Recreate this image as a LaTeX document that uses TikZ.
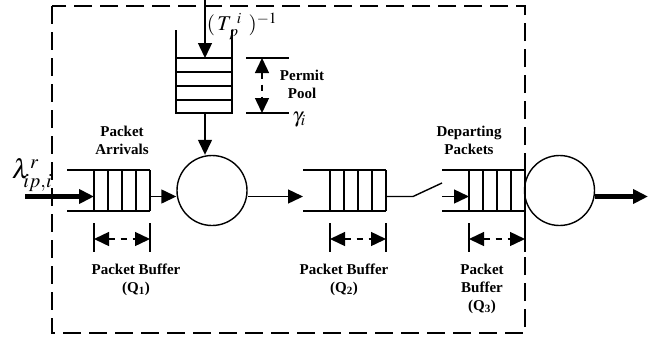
\documentclass[tikz,border=0pt]{standalone}
\usepackage{mathptmx}
\usepackage[no-math]{fontspec}
\setmainfont{Liberation Serif}
\usetikzlibrary{arrows.meta}

\begin{document}
\begin{tikzpicture}[x=1pt,y=-1pt,
		>={Triangle[length=15pt,width=14pt]},
		line width=1.4pt,
		flow/.style={->},
		heavy flow/.style={->,line width=5.5pt},
		dim/.style={<->,dash pattern=on 6pt off 6pt},
		server/.style={circle,draw,line width=1.4pt,minimum size=70pt,inner sep=0pt},
		lbl/.style={font=\fontsize{15}{18}\selectfont\bfseries,align=center,inner sep=0pt},
		buffer/.pic={
			\draw (-83,-20.5) -- (0,-20.5) (-83,20.5) -- (0,20.5);
			\foreach \x in {0,14,28,42,56}
				\draw (-\x,-20.5) -- (-\x,20.5);
			% dimension ticks
			\draw (-56,32.5) -- (-56,61.5) (0,32.5) -- (0,61.5);
			\coordinate (-open) at (-83,6);
			\coordinate (-in) at (-56,6);
			\coordinate (-out) at (0,6);
			\coordinate (-dl) at (-56,48.5);
			\coordinate (-dr) at (0,48.5);
		}]
		\useasboundingbox (0,0) rectangle (664,341);
		% boundary
		\draw[line width=1.8pt,dash pattern=on 18pt off 8pt] (52,6) rectangle (525,333);
		
		% buffers
		\pic (q1) at (150,190.5) {buffer};
		\pic (q2) at (386,190.5) {buffer};
		\pic (q3) at (525,190.5) {buffer};
		
		% servers
		\node[server] (srv1) at (212,190.5) {};
		\node[server] (srv2) at (559.5,190.5) {};
		
		% permit pool
		\draw (176,30) -- (176,113) -- (232,113) -- (232,30);
		\foreach \y in {58,72,86,100}
			\draw (176,\y) -- (232,\y);
		\coordinate (tok) at (205,0);
		\coordinate (pooltop) at (205,58);
		\coordinate (poolbot) at (205,113);
		\draw (246,58) -- (289,58) (246,113) -- (289,113);
		\coordinate (pdtop) at (262,58);
		\coordinate (pdbot) at (262,113);
		
		\coordinate (src) at (25,196.5);
		\coordinate (sink) at (648,196.5);
		\coordinate (swa) at (413,196.5);
		\coordinate (swb) at (442,183);
		
		% labels
		\node[inner sep=0pt] (rate) at (242,26) {\fontsize{21}{24}\selectfont$(\,T_{\,p}^{\;\,i}\;\,)^{-1}$};
		\node[lbl] (pool) at (302,84.5) {Permit\\Pool};
		\node[inner sep=0pt] (gam) at (299,120) {\fontsize{21}{23}\selectfont$\gamma_i$};
		\node[inner sep=0pt] (lam) at (32,175) {\fontsize{27}{30}\selectfont$\lambda^{r}_{\mkern-3mu\lower3pt\hbox{$\scriptstyle ip,i$}}$};
		\node[lbl] (arr) at (122,140) {Packet\\Arrivals};
		\node[lbl] (dep) at (469,140) {Departing\\Packets};
		\node[lbl] (b1) at (136,280) {Packet Buffer\\(Q\textsubscript{1})};
		\node[lbl] (b2) at (344,280) {Packet Buffer\\(Q\textsubscript{2})};
		\node[lbl] (b3) at (482,288.5) {Packet\\Buffer\\(Q\textsubscript{3})};
		
		% connectors
		\draw[flow] (tok) -- (pooltop);
		\draw[flow] (poolbot) -- (poolbot |- srv1.north);
		\draw[dim] (pdtop) -- (pdbot);
		\draw[heavy flow] (src) -- (q1-in);
		\draw[flow] (q1-out) -- (q1-out -| srv1.west);
		\draw[flow] (srv1.east |- q2-open) -- (q2-open);
		\draw (q2-out) -- (swa) -- (swb);
		\draw[flow] (q3-open) -- (q3-in);
		\draw[heavy flow] (srv2.east |- q3-out) -- (sink);
		\draw[dim] (q1-dl) -- (q1-dr);
		\draw[dim] (q2-dl) -- (q2-dr);
		\draw[dim] (q3-dl) -- (q3-dr);
		
\end{tikzpicture}
\end{document}
